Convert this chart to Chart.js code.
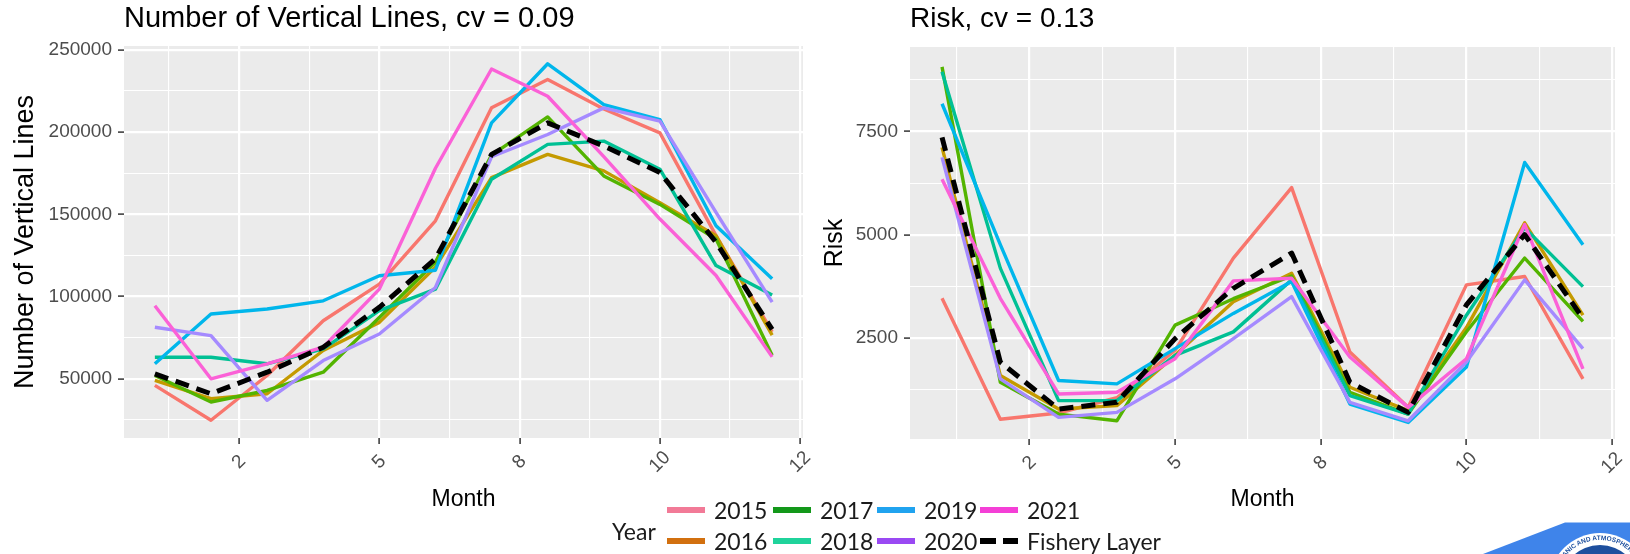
<!DOCTYPE html>
<html>
<head>
<meta charset="utf-8">
<script src="https://cdn.jsdelivr.net/npm/chart.js@4.4.1/dist/chart.umd.min.js"></script>
<style>
  html, body { margin: 0; padding: 0; background: #ffffff; }
  body { width: 1630px; height: 554px; position: relative; overflow: hidden; }
  canvas { position: absolute; top: 0; }
  #cvLines { left: 0; }
  #cvRisk { left: 815px; }
  #legend { position: absolute; left: 0; top: 0; width: 1630px; height: 554px;
            font-family: Lato, "Open Sans", "Noto Sans", sans-serif; font-size: 23px; color: #1b1b1b; }
  #legend .lbl { position: absolute; line-height: 26px; transform: translateY(-50%); white-space: nowrap; }
  #legend .sw { position: absolute; width: 38px; height: 6px; transform: translateY(-50%); }
  #logo { position: absolute; left: 0; top: 0; pointer-events: none; }
</style>
</head>
<body>
<canvas id="cvLines" width="815" height="554"></canvas>
<canvas id="cvRisk" width="815" height="554"></canvas>
<div id="legend"></div>
<svg id="logo" width="1630" height="554" viewBox="0 0 1630 554">
  <polygon points="1483,554 1565,522.5 1630,522.5 1630,554" fill="#3f84ea"/>
  <circle cx="1600" cy="584" r="51" fill="#ffffff"/>
  <circle cx="1600" cy="584" r="39" fill="#1d4f9e"/>
  <path id="sealArc" d="M 1568.9 615.1 A 44 44 0 1 1 1631.1 615.1" fill="none"/>
  <text font-family="Liberation Sans, Arial, sans-serif" font-size="6.5" font-weight="bold" fill="#1d4f9e">
    <textPath href="#sealArc" startOffset="14">NATIONAL OCEANIC AND ATMOSPHERIC ADMINISTRATION</textPath>
  </text>
</svg>
<script>
// ---- data -------------------------------------------------------------
const MONTHS = [1, 2, 3, 4, 5, 6, 7, 8, 9, 10, 11, 12];
const YEARS = ['2015', '2016', '2017', '2018', '2019', '2020', '2021'];
const LAYER_NAME = 'Fishery Layer';

// Number of vertical lines per month
const lines2015 = [46000, 24800, 52000, 85300, 107500, 146000, 214700, 232000, 214000, 199500, 137000, 78500];
const lines2016 = [49000, 37900, 40900, 67200, 84300, 118000, 172300, 186400, 176400, 157000, 137000, 76500];
const lines2017 = [52000, 35900, 42900, 54000, 87300, 121000, 186000, 209200, 173300, 156000, 135000, 64300];
const lines2018 = [63100, 63100, 59100, 68200, 91400, 104500, 171300, 192500, 194500, 177400, 118800, 101000];
const lines2019 = [59100, 89400, 92400, 97400, 112600, 116000, 205600, 241500, 216700, 207600, 143000, 110800];
const lines2020 = [81300, 76200, 36900, 61100, 77200, 105500, 185000, 198500, 214700, 206600, 151100, 96600];
const lines2021 = [94400, 50000, 59100, 69200, 104500, 178000, 238300, 221750, 185000, 147100, 112800, 63300];
const linesLayer = [53000, 40900, 54000, 69200, 93400, 122900, 186400, 205600, 191500, 175400, 133000, 80000];

// Risk per month
const risk2015 = [3460, 530, 680, 1050, 2200, 4435, 6142, 2159, 817, 3785, 3988, 1508];
const risk2016 = [7118, 1589, 776, 858, 2077, 3378, 4069, 1305, 736, 2750, 5289, 3053];
const risk2017 = [9069, 1427, 654, 492, 2809, 3450, 4000, 1183, 654, 2650, 4435, 2900];
const risk2018 = [8950, 4191, 980, 980, 2077, 2646, 3906, 1102, 654, 3050, 5167, 3744];
const risk2019 = [8175, 4760, 1467, 1386, 2240, 3094, 3866, 898, 450, 1793, 6752, 4760];
const risk2020 = [6874, 1508, 573, 695, 1508, 2484, 3500, 939, 492, 1915, 3906, 2240];
const risk2021 = [6345, 3459, 1142, 1183, 1996, 3882, 3947, 2037, 817, 1996, 5248, 1752];
const riskLayer = [7362, 1915, 776, 939, 2484, 3703, 4557, 1427, 695, 3300, 5004, 2972];

// axis breaks and their labels
const X_BREAKS = [2.5, 5, 7.5, 10, 12.5];
const X_MINOR = [1.25, 3.75, 6.25, 8.75, 11.25];
const X_TICK_LABELS = ['2', '5', '8', '10', '12'];
const LINES_Y_BREAKS = [50000, 100000, 150000, 200000, 250000];
const LINES_Y_MINOR = [25000, 75000, 125000, 175000, 225000];
const RISK_Y_BREAKS = [2500, 5000, 7500];
const RISK_Y_MINOR = [1250, 3750, 6250, 8750];

// ---- styling ------------------------------------------------------------
const YEAR_COLORS = ['#F8766D', '#C49A00', '#53B400', '#00C094', '#00B6EB', '#A58AFF', '#FB61D7'];
const LEGEND_COLORS = ['#f27a97', '#d2700f', '#13981a', '#1fd39b', '#20a3ef', '#9a49f3', '#f43fd6'];
const FONT = '"Liberation Sans", Arial, Helvetica, sans-serif';
const PANEL_BG = '#EBEBEB';
const AXIS_TEXT = '#4D4D4D';

function toPoints(values) {
  return MONTHS.map((m, i) => ({ x: m, y: values[i] }));
}

function buildDatasets(yearSeries, layerSeries) {
  const sets = yearSeries.map((vals, i) => ({
    label: YEARS[i],
    data: toPoints(vals),
    borderColor: YEAR_COLORS[i],
    borderWidth: 3.4,
    borderJoinStyle: 'round',
    pointRadius: 0,
    tension: 0,
    fill: false,
    order: YEARS.length - i
  }));
  sets.push({
    label: LAYER_NAME,
    data: toPoints(layerSeries),
    borderColor: '#000000',
    borderWidth: 5,
    borderDash: [14, 8],
    borderCapStyle: 'butt',
    borderJoinStyle: 'round',
    pointRadius: 0,
    tension: 0,
    fill: false,
    order: 0
  });
  return sets;
}

function tickList(major, minor) {
  return major.map(v => ({ value: v, major: true }))
    .concat(minor.map(v => ({ value: v, major: false })))
    .sort((a, b) => a.value - b.value);
}

const isMajor = ctx => !!(ctx.tick && ctx.tick.major);

const panelBackground = {
  id: 'panelBackground',
  beforeDraw(chart) {
    const { ctx, chartArea: a } = chart;
    ctx.save();
    ctx.fillStyle = PANEL_BG;
    ctx.fillRect(a.left, a.top, a.right - a.left, a.bottom - a.top);
    ctx.restore();
  }
};

// month labels set at 45 degrees, centred under their tick marks
const rotatedMonthLabels = {
  id: 'rotatedMonthLabels',
  afterDraw(chart) {
    const { ctx, chartArea: a } = chart;
    const xs = chart.scales.x;
    ctx.save();
    ctx.fillStyle = AXIS_TEXT;
    ctx.font = '19px ' + FONT;
    ctx.textAlign = 'center';
    ctx.textBaseline = 'middle';
    X_BREAKS.forEach((v, i) => {
      const px = xs.getPixelForValue(v);
      ctx.save();
      ctx.translate(px, a.bottom + 24);
      ctx.rotate(-Math.PI / 4);
      ctx.fillText(X_TICK_LABELS[i], 0, 0);
      ctx.restore();
    });
    ctx.restore();
  }
};

const panelHeading = {
  id: 'panelHeading',
  afterDraw(chart, args, opts) {
    const { ctx, chartArea: a } = chart;
    ctx.save();
    ctx.fillStyle = '#000000';
    ctx.font = opts.size + 'px ' + FONT;
    ctx.textAlign = 'left';
    ctx.textBaseline = 'middle';
    ctx.fillText(opts.text, a.left, 19);
    ctx.restore();
  }
};

function makePanel(canvasId, cfg) {
  return new Chart(document.getElementById(canvasId), {
    type: 'line',
    data: { datasets: buildDatasets(cfg.years, cfg.layer) },
    options: {
      responsive: false,
      animation: false,
      devicePixelRatio: 1,
      events: [],
      layout: { padding: { top: cfg.top, right: cfg.right, left: 0, bottom: 0 } },
      plugins: {
        legend: { display: false },
        tooltip: { enabled: false },
        title: { display: false },
        panelHeading: { text: cfg.title, size: cfg.titleSize }
      },
      scales: {
        x: {
          type: 'linear',
          min: 0.45,
          max: 12.55,
          afterBuildTicks: s => { s.ticks = tickList(X_BREAKS, X_MINOR); },
          afterFit: s => { s.height = cfg.xHeight; },
          border: { display: false },
          grid: {
            color: '#ffffff',
            lineWidth: ctx => isMajor(ctx) ? 2.2 : 1.1,
            drawTicks: true,
            tickLength: 6,
            tickWidth: 1.5,
            tickColor: ctx => isMajor(ctx) ? '#333333' : 'rgba(0,0,0,0)'
          },
          ticks: { display: false },
          title: {
            display: true,
            text: 'Month',
            color: '#000000',
            font: { family: FONT, size: 23 },
            padding: { top: 0, bottom: 41 }
          }
        },
        y: {
          type: 'linear',
          min: cfg.yMin,
          max: cfg.yMax,
          afterBuildTicks: s => { s.ticks = tickList(cfg.yBreaks, cfg.yMinor); },
          afterFit: s => { s.width = cfg.yWidth; },
          border: { display: false },
          grid: {
            color: '#ffffff',
            lineWidth: ctx => isMajor(ctx) ? 2.2 : 1.1,
            drawTicks: true,
            tickLength: 6,
            tickWidth: 1.5,
            tickColor: ctx => isMajor(ctx) ? '#333333' : 'rgba(0,0,0,0)'
          },
          ticks: {
            color: AXIS_TEXT,
            font: { family: FONT, size: 19 },
            padding: 6,
            callback: (value, index, ticks) => (ticks[index] && ticks[index].major) ? String(value) : ''
          },
          title: {
            display: true,
            text: cfg.yTitle,
            color: '#000000',
            font: { family: FONT, size: cfg.yTitleSize },
            padding: { top: cfg.yTitlePad, bottom: 0 }
          }
        }
      }
    },
    plugins: [panelBackground, rotatedMonthLabels, panelHeading]
  });
}

makePanel('cvLines', {
  title: 'Number of Vertical Lines, cv = 0.09',
  titleSize: 29,
  yTitle: 'Number of Vertical Lines',
  yTitleSize: 27,
  years: [lines2015, lines2016, lines2017, lines2018, lines2019, lines2020, lines2021],
  layer: linesLayer,
  yMin: 14000, yMax: 252300,
  yBreaks: LINES_Y_BREAKS, yMinor: LINES_Y_MINOR,
  top: 46, right: 12, yWidth: 124, xHeight: 116, yTitlePad: 9
});

makePanel('cvRisk', {
  title: 'Risk, cv = 0.13',
  titleSize: 28,
  yTitle: 'Risk',
  yTitleSize: 25,
  years: [risk2015, risk2016, risk2017, risk2018, risk2019, risk2020, risk2021],
  layer: riskLayer,
  yMin: 50, yMax: 9550,
  yBreaks: RISK_Y_BREAKS, yMinor: RISK_Y_MINOR,
  top: 47, right: 15, yWidth: 95, xHeight: 115, yTitlePad: 5
});

// ---- shared legend ------------------------------------------------------
(function buildLegend() {
  const host = document.getElementById('legend');
  const colX = [667, 773, 877, 980];
  const rowY = [510, 541];
  const title = document.createElement('div');
  title.className = 'lbl';
  title.textContent = 'Year';
  title.style.left = '612px';
  title.style.top = '531px';
  host.appendChild(title);

  const entries = YEARS.map((y, i) => ({ name: y, color: LEGEND_COLORS[i], dashed: false }));
  entries.push({ name: LAYER_NAME, color: '#000000', dashed: true });

  entries.forEach((e, i) => {
    const col = Math.floor(i / 2), row = i % 2;
    const sw = document.createElement('div');
    sw.className = 'sw';
    sw.style.left = colX[col] + 'px';
    sw.style.top = rowY[row] + 'px';
    sw.style.background = e.dashed
      ? 'linear-gradient(to right, #000 0px, #000 16px, transparent 16px, transparent 23px, #000 23px, #000 38px)'
      : e.color;
    host.appendChild(sw);
    const t = document.createElement('div');
    t.className = 'lbl';
    t.textContent = e.name;
    t.style.left = (colX[col] + 47) + 'px';
    t.style.top = rowY[row] + 'px';
    host.appendChild(t);
  });
})();
</script>
</body>
</html>
